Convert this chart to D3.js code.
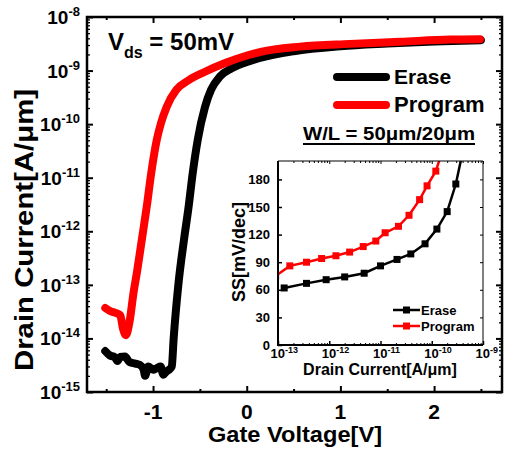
<!DOCTYPE html>
<html>
<head>
<meta charset="utf-8">
<script src="https://cdn.jsdelivr.net/npm/d3@7"></script>
<style>
  body { margin: 0; background: #fff; }
  svg text { font-family: "Liberation Sans", Arial, sans-serif; font-weight: bold; fill: #000; }
</style>
</head>
<body>
<div id="chart"></div>
<script>
// transfer curves, gate voltage [V] vs drain current [A/um]
const eraseVg = [-1.51, -1.46, -1.41, -1.38, -1.35, -1.30, -1.25, -1.19, -1.14, -1.10, -1.085, -1.05, -1.00, -0.96, -0.92, -0.89, -0.86, -0.83, -0.80, -0.78, -0.73, -0.67, -0.62, -0.577, -0.523, -0.445, -0.38, -0.285, -0.16, 0.02, 0.13, 0.5, 1.0, 1.5, 2.0, 2.5];
const eraseId = [5.8e-15, 4.8e-15, 4.5e-15, 3.8e-15, 4.5e-15, 4.6e-15, 3.6e-15, 3.4e-15, 3.2e-15, 2.6e-15, 2.0e-15, 3.0e-15, 2.6e-15, 2.8e-15, 3.0e-15, 2.1e-15, 2.4e-15, 2.6e-15, 3.0e-15, 1.0e-14, 1.0e-13, 6.9e-13, 2.9e-12, 1.2e-11, 5.1e-11, 2.1e-10, 4.4e-10, 7.8e-10, 1.1e-9, 1.48e-9, 1.7e-9, 2.3e-9, 2.85e-9, 3.2e-9, 3.5e-9, 3.7e-9];
const programVg = [-1.51, -1.45, -1.40, -1.35, -1.32, -1.29, -1.25, -1.21, -1.17, -1.12, -1.067, -1.02, -0.96, -0.915, -0.855, -0.75, -0.62, -0.445, -0.23, 0.02, 0.15, 0.57, 1.1, 1.64, 2.17, 2.49];
const programId = [3.7e-14, 3.2e-14, 3.0e-14, 2.7e-14, 1.5e-14, 1.15e-14, 2.1e-14, 6.8e-14, 1.8e-13, 6.9e-13, 2.9e-12, 1.2e-11, 5.1e-11, 1.05e-10, 2.1e-10, 4.4e-10, 6.6e-10, 9.5e-10, 1.38e-9, 1.95e-9, 2.24e-9, 2.8e-9, 3.15e-9, 3.45e-9, 3.8e-9, 3.85e-9];

const xTicks = [-1, 0, 1, 2];
const xMinor = [-1.5, -0.5, 0.5, 1.5, 2.5];
const yDecades = [-15, -14, -13, -12, -11, -10, -9, -8];

// inset: subthreshold swing vs drain current
const ssEraseId = [1.32e-13, 3.6e-13, 8.7e-13, 2.0e-12, 4.8e-12, 1.0e-11, 2.1e-11, 3.9e-11, 7.4e-11, 1.26e-10, 2.0e-10, 2.95e-10, 4.2e-10];
const ssErase = [62, 67, 71, 74, 78, 86, 93, 99, 110, 126, 145, 175, 215];
const ssProgramId = [9e-14, 1.7e-13, 3.6e-13, 7.1e-13, 1.35e-12, 2.5e-12, 4.6e-12, 8.1e-12, 1.23e-11, 2.24e-11, 3.6e-11, 5.8e-11, 8.1e-11, 1.2e-10, 1.7e-10];
const ssProgram = [75, 86, 90, 94, 97, 101, 107, 113, 122, 129, 141, 158, 173, 189, 215];
const ssTicks = [0, 30, 60, 90, 120, 150, 180];
const ssDecades = [-13, -12, -11, -10, -9];

const RED = '#ff0000';

const svg = d3.select('#chart').append('svg')
  .attr('width', 506)
  .attr('height', 451);

// ---------- main plot ----------
const x = d3.scaleLinear().domain([-1.705, 2.725]).range([87, 502]);
const y = d3.scaleLog().domain([1e-15, 1e-8]).range([392, 17]);

const logMinor = [];
yDecades.slice(0, -1).forEach(d => {
  for (let k = 2; k <= 9; k += 1) logMinor.push(k * Math.pow(10, d));
});

// draws an axis with ticks only, no domain line
const tickAxis = (axis, transform, width) => {
  const g = svg.append('g').attr('transform', transform).call(axis);
  g.select('.domain').remove();
  g.selectAll('.tick line').attr('stroke', '#000').attr('stroke-width', width);
  g.selectAll('.tick text').remove();
  return g;
};

const decadeVals = yDecades.map(d => Math.pow(10, d));
tickAxis(d3.axisLeft(y).tickValues(decadeVals).tickSize(-6), 'translate(87,0)', 2);
tickAxis(d3.axisLeft(y).tickValues(logMinor).tickSize(-3), 'translate(87,0)', 1.3);
tickAxis(d3.axisRight(y).tickValues(decadeVals).tickSize(-6), 'translate(502,0)', 2);
tickAxis(d3.axisRight(y).tickValues(logMinor).tickSize(-3), 'translate(502,0)', 1.3);
tickAxis(d3.axisBottom(x).tickValues(xTicks).tickSize(-6), 'translate(0,392)', 2);
tickAxis(d3.axisBottom(x).tickValues(xMinor).tickSize(-3), 'translate(0,392)', 2);
tickAxis(d3.axisTop(x).tickValues(xTicks).tickSize(-6), 'translate(0,17)', 2);
tickAxis(d3.axisTop(x).tickValues(xMinor).tickSize(-3), 'translate(0,17)', 2);

svg.append('rect')
  .attr('x', 87).attr('y', 17).attr('width', 415).attr('height', 375)
  .attr('fill', 'none').attr('stroke', '#000').attr('stroke-width', 2.5);

// y tick labels 10^n
yDecades.forEach(d => {
  const t = svg.append('text')
    .attr('x', 80).attr('y', y(Math.pow(10, d)) + 7)
    .attr('text-anchor', 'end');
  t.append('tspan').attr('font-size', 19).text('10');
  t.append('tspan').attr('font-size', 13).attr('dy', -8).text(String(d));
});

// x tick labels
xTicks.forEach(v => {
  svg.append('text')
    .attr('x', x(v)).attr('y', 419)
    .attr('text-anchor', 'middle').attr('font-size', 21)
    .text(v);
});

svg.append('text')
  .attr('x', 295).attr('y', 442)
  .attr('text-anchor', 'middle').attr('font-size', 22)
  .attr('textLength', 174).attr('lengthAdjust', 'spacingAndGlyphs')
  .text('Gate Voltage[V]');

svg.append('text')
  .attr('transform', 'translate(33,230) rotate(-90)')
  .attr('text-anchor', 'middle').attr('font-size', 25)
  .attr('textLength', 282).attr('lengthAdjust', 'spacingAndGlyphs')
  .text('Drain Current[A/\u03bcm]');

// curves
const line = d3.line()
  .x(d => x(d[0]))
  .y(d => y(d[1]))
  .curve(d3.curveMonotoneX);

const drawCurve = (vg, id, color) => {
  svg.append('path')
    .datum(d3.zip(vg, id))
    .attr('d', line)
    .attr('fill', 'none')
    .attr('stroke', color)
    .attr('stroke-width', 8)
    .attr('stroke-linecap', 'round')
    .attr('stroke-linejoin', 'round');
};
drawCurve(eraseVg, eraseId, '#000');
drawCurve(programVg, programId, RED);

// annotation
const vds = svg.append('text').attr('x', 108).attr('y', 50).attr('font-size', 24);
vds.append('tspan').text('V');
vds.append('tspan').attr('font-size', 16).attr('dy', 8).text('ds');
vds.append('tspan').attr('dy', -8).text(' = 50mV');

// legend
[['Erase', '#000', 77, 21], ['Program', RED, 105, 22]].forEach(([name, color, ly, fs]) => {
  svg.append('line')
    .attr('x1', 337).attr('x2', 386).attr('y1', ly).attr('y2', ly)
    .attr('stroke', color).attr('stroke-width', 8).attr('stroke-linecap', 'round');
  svg.append('text').attr('x', 394).attr('y', ly + 7).attr('font-size', fs).text(name);
});

svg.append('text')
  .attr('x', 303).attr('y', 140).attr('font-size', 19)
  .attr('textLength', 172).attr('lengthAdjust', 'spacingAndGlyphs')
  .text('W/L = 50\u03bcm/20\u03bcm');
svg.append('line')
  .attr('x1', 303).attr('x2', 475).attr('y1', 144).attr('y2', 144)
  .attr('stroke', '#000').attr('stroke-width', 1.8);

// ---------- inset ----------
const ix = d3.scaleLog().domain([1e-13, 1e-9]).range([278, 483]);
const iy = d3.scaleLinear().domain([0, 200]).range([345, 161]);

svg.append('rect')
  .attr('x', 278).attr('y', 161).attr('width', 205).attr('height', 184)
  .attr('fill', '#fff');

svg.append('clipPath').attr('id', 'inset-clip')
  .append('rect').attr('x', 278).attr('y', 161).attr('width', 205).attr('height', 184);

const inset = svg.append('g').attr('clip-path', 'url(#inset-clip)');

const ssLine = d3.line()
  .x(d => ix(d[0]))
  .y(d => iy(d[1]));

const drawSS = (ids, ss, color) => {
  const data = d3.zip(ids, ss);
  inset.append('path')
    .datum(data)
    .attr('d', ssLine)
    .attr('fill', 'none')
    .attr('stroke', color)
    .attr('stroke-width', 2.5);
  inset.selectAll(null)
    .data(data)
    .enter()
    .append('rect')
    .attr('x', d => ix(d[0]) - 3.5)
    .attr('y', d => iy(d[1]) - 3.5)
    .attr('width', 7)
    .attr('height', 7)
    .attr('fill', color);
};
drawSS(ssEraseId, ssErase, '#000');
drawSS(ssProgramId, ssProgram, RED);

const ssMinor = [];
ssDecades.slice(0, -1).forEach(d => {
  for (let k = 2; k <= 9; k += 1) ssMinor.push(k * Math.pow(10, d));
});
const ssDecadeVals = ssDecades.map(d => Math.pow(10, d));

tickAxis(d3.axisLeft(iy).tickValues(ssTicks).tickSize(-4), 'translate(278,0)', 1.5);
tickAxis(d3.axisRight(iy).tickValues(ssTicks).tickSize(-3), 'translate(483,0)', 1);
tickAxis(d3.axisBottom(ix).tickValues(ssDecadeVals).tickSize(-4), 'translate(0,345)', 1.5);
tickAxis(d3.axisBottom(ix).tickValues(ssMinor).tickSize(-2), 'translate(0,345)', 1);
tickAxis(d3.axisTop(ix).tickValues(ssDecadeVals).tickSize(-3), 'translate(0,161)', 1);
tickAxis(d3.axisTop(ix).tickValues(ssMinor).tickSize(-2), 'translate(0,161)', 1);

svg.append('path')
  .attr('d', 'M278,161H483V345')
  .attr('fill', 'none').attr('stroke', '#000').attr('stroke-width', 1);
svg.append('path')
  .attr('d', 'M278,161V345H483')
  .attr('fill', 'none').attr('stroke', '#000').attr('stroke-width', 2);

ssTicks.forEach(v => {
  svg.append('text')
    .attr('x', 270).attr('y', iy(v) + 4.5)
    .attr('text-anchor', 'end').attr('font-size', 13)
    .text(v);
});

ssDecades.forEach(d => {
  const t = svg.append('text')
    .attr('x', ix(Math.pow(10, d)) - 7.5).attr('y', 358);
  t.append('tspan').attr('font-size', 13).text('10');
  t.append('tspan').attr('font-size', 9).attr('dy', -5).text(String(d));
});

svg.append('text')
  .attr('x', 380).attr('y', 375)
  .attr('text-anchor', 'middle').attr('font-size', 16)
  .text('Drain Current[A/\u03bcm]');

svg.append('text')
  .attr('transform', 'translate(245,252) rotate(-90)')
  .attr('text-anchor', 'middle').attr('font-size', 18)
  .text('SS[mV/dec]');

[['Erase', '#000', 310], ['Program', RED, 326]].forEach(([name, color, ly]) => {
  svg.append('line')
    .attr('x1', 393).attr('x2', 420).attr('y1', ly).attr('y2', ly)
    .attr('stroke', color).attr('stroke-width', 2.5);
  svg.append('rect')
    .attr('x', 403).attr('y', ly - 3.5).attr('width', 7).attr('height', 7)
    .attr('fill', color);
  svg.append('text').attr('x', 421).attr('y', ly + 4.5).attr('font-size', 13).text(name);
});
</script>
</body>
</html>
